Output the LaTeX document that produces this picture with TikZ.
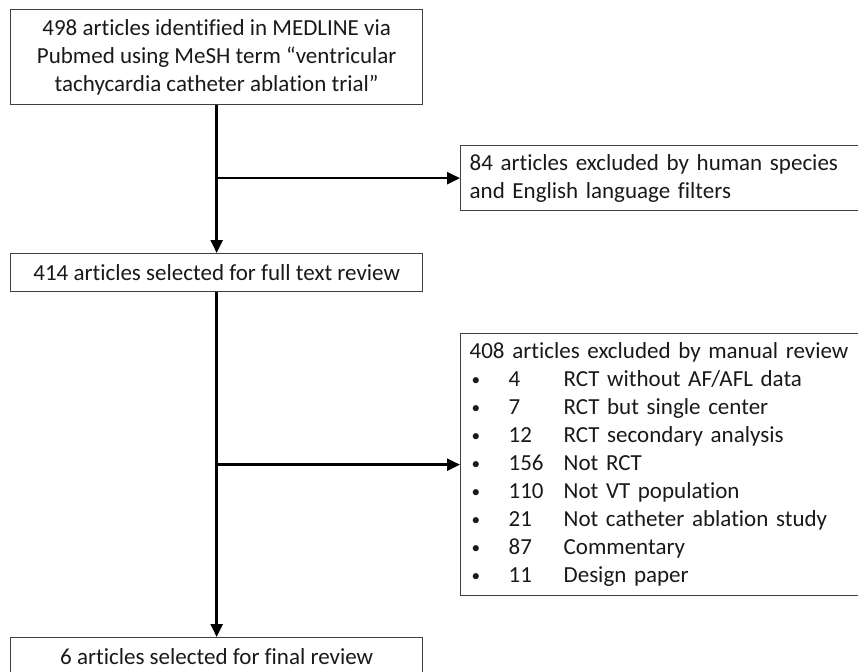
\documentclass[tikz,border=0pt]{standalone}
\usepackage{fontspec}
\setmainfont{Carlito}[Ligatures={NoCommon}]
\usetikzlibrary{arrows.meta}
\newcommand{\bl}{\makebox[39pt][l]{\hspace{2pt}\raisebox{1.5pt}{\scalebox{0.75}{•}}}}
\begin{document}
\begin{tikzpicture}[x=1pt,y=-1pt,
  box/.style={draw=black!75, line width=1.3pt, inner sep=0pt, anchor=north west,
    font=\fontsize{23}{28}\selectfont, text=black!90},
  lbox/.style={box, align=left, inner xsep=9pt, text width=380pt},
  conn/.style={line width=2.4pt, -{Triangle[length=13pt,width=12pt]}}]
\useasboundingbox (0,0) rectangle (858,671);
\node[box, minimum width=412pt, minimum height=95pt, align=center] (b1) at (10,9)
  {498 articles identified in MEDLINE via\\Pubmed using MeSH term “ventricular\\tachycardia catheter ablation trial”};
\node[box, minimum width=412pt, minimum height=38pt] (b2) at (10,253)
  {414 articles selected for full text review};
\node[lbox, minimum height=65pt] (b3) at (460,145)
  {84 articles excluded by human species\\and English language filters};
\node[lbox, minimum height=262pt] (b4) at (460,333)
  {408 articles excluded by manual review\\
   \bl\makebox[55pt][l]{4}RCT without AF/AFL data\\
   \bl\makebox[55pt][l]{7}RCT but single center\\
   \bl\makebox[55pt][l]{12}RCT secondary analysis\\
   \bl\makebox[55pt][l]{156}Not RCT\\
   \bl\makebox[55pt][l]{110}Not VT population\\
   \bl\makebox[55pt][l]{21}Not catheter ablation study\\
   \bl\makebox[55pt][l]{87}Commentary\\
   \bl\makebox[55pt][l]{11}Design paper};
\node[box, minimum width=412pt, minimum height=38pt] (b5) at (10,637)
  {6 articles selected for final review};
\draw[conn] (b1.south) -- (b2.north);
\draw[conn] (b1.south |- b3.west) -- (b3.west);
\draw[conn] (b2.south) -- (b5.north);
\draw[conn] (b2.south |- b4.west) -- (b4.west);
\end{tikzpicture}
\end{document}
